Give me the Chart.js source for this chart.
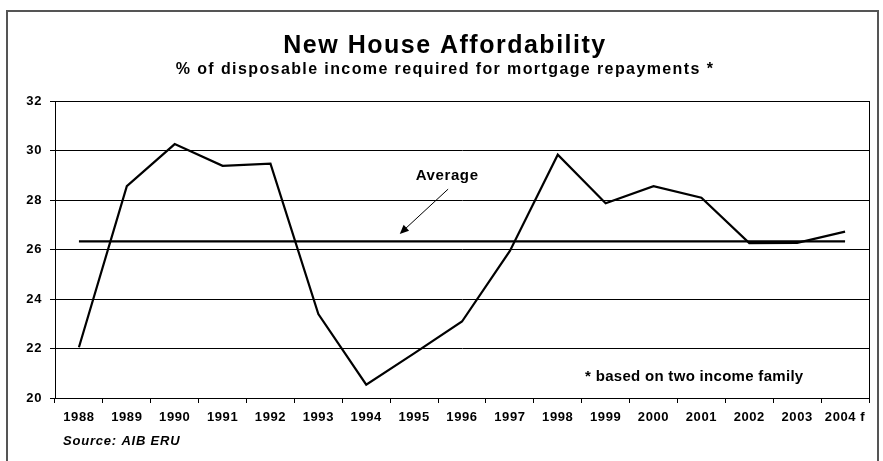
<!DOCTYPE html>
<html>
<head>
<meta charset="utf-8">
<script src="https://cdn.jsdelivr.net/npm/chart.js@4"></script>
<style>
  html, body { margin: 0; padding: 0; background: #fff; }
  #wrap { width: 883px; height: 461px; }
</style>
</head>
<body>
<div id="wrap"><canvas id="chart" width="883" height="461"></canvas></div>
<script>
// values
var years = ['1988', '1989', '1990', '1991', '1992', '1993', '1994', '1995', '1996',
             '1997', '1998', '1999', '2000', '2001', '2002', '2003', '2004 f'];
var affordability = [22.05, 28.56, 30.26, 29.38, 29.47, 23.39, 20.54, 21.8, 23.09,
                     25.94, 29.83, 27.87, 28.56, 28.09, 26.26, 26.27, 26.72];
var averageValue = 26.33;
var yTicks = [20, 22, 24, 26, 28, 30, 32];

var titleText = 'New House Affordability';
var subtitleText = '% of disposable income required for mortgage repayments *';
var noteText = '* based on two income family';
var sourceText = 'Source: AIB ERU';
var averageText = 'Average';

var FONT = '"Liberation Sans", Arial, sans-serif';

function drawText(ctx, text, x, y, font, align, spacing) {
    ctx.save();
    ctx.font = font;
    ctx.fillStyle = '#000';
    ctx.textAlign = align;
    ctx.textBaseline = 'alphabetic';
    ctx.letterSpacing = spacing + 'px';
    ctx.fillText(text, x, y);
    ctx.restore();
}

// frame, titles, notes and the "Average" arrow
var decorPlugin = {
    id: 'decor',
    beforeDraw(chart) {
        chart.ctx.letterSpacing = '0.6px';
    },
    afterDraw(chart) {
        var ctx = chart.ctx;
        var area = chart.chartArea;
        var xs = chart.scales.x;
        var ys = chart.scales.y;

        ctx.save();
        ctx.letterSpacing = '0px';
        // outer border
        ctx.strokeStyle = '#555';
        ctx.lineWidth = 2;
        ctx.strokeRect(7, 11, 871, 470);
        // plot frame
        ctx.strokeStyle = '#000';
        ctx.lineWidth = 1;
        ctx.strokeRect(Math.round(area.left) + 0.5, Math.round(area.top) + 0.5,
                       Math.round(area.right - area.left), Math.round(area.bottom - area.top));
        ctx.restore();

        drawText(ctx, titleText, 445, 53, 'bold 25px ' + FONT, 'center', 1.5);
        drawText(ctx, subtitleText, 445, 74, 'bold 16px ' + FONT, 'center', 1.4);
        drawText(ctx, sourceText, 63, 445, 'italic bold 13px ' + FONT, 'left', 0.8);

        // note inside plot, anchored to the scales
        drawText(ctx, noteText, xs.getPixelForValue(10.57), ys.getPixelForValue(20.7),
                 'bold 15px ' + FONT, 'left', 0.3);

        // Average label and arrow
        drawText(ctx, averageText, xs.getPixelForValue(7.69), ys.getPixelForValue(28.8),
                 'bold 15px ' + FONT, 'center', 0.6);
        var x0 = xs.getPixelForValue(7.71), y0 = ys.getPixelForValue(28.44);
        var x1 = xs.getPixelForValue(6.70), y1 = ys.getPixelForValue(26.63);
        var ang = Math.atan2(y1 - y0, x1 - x0);
        ctx.save();
        ctx.strokeStyle = '#000';
        ctx.fillStyle = '#000';
        ctx.lineWidth = 1;
        ctx.beginPath();
        ctx.moveTo(x0, y0);
        ctx.lineTo(x1 - 6 * Math.cos(ang), y1 - 6 * Math.sin(ang));
        ctx.stroke();
        ctx.beginPath();
        ctx.moveTo(x1, y1);
        ctx.lineTo(x1 - 9 * Math.cos(ang) + 4 * Math.sin(ang), y1 - 9 * Math.sin(ang) - 4 * Math.cos(ang));
        ctx.lineTo(x1 - 9 * Math.cos(ang) - 4 * Math.sin(ang), y1 - 9 * Math.sin(ang) + 4 * Math.cos(ang));
        ctx.closePath();
        ctx.fill();
        ctx.restore();
    }
};

new Chart(document.getElementById('chart').getContext('2d'), {
    type: 'line',
    data: {
        labels: years,
        datasets: [{
            label: 'Affordability',
            data: affordability,
            borderColor: '#000',
            borderWidth: 2.2,
            pointRadius: 0,
            tension: 0,
            fill: false
        }, {
            label: 'Average',
            data: years.map(() => averageValue),
            borderColor: '#000',
            borderWidth: 2.2,
            pointRadius: 0,
            fill: false
        }]
    },
    options: {
        responsive: false,
        animation: false,
        layout: { padding: { left: 0, right: 14, top: 101, bottom: 0 } },
        plugins: {
            legend: { display: false },
            tooltip: { enabled: false },
            title: { display: false }
        },
        scales: {
            x: {
                offset: true,
                grid: { offset: true, drawOnChartArea: false, color: '#000', tickLength: 5, tickColor: '#000' },
                border: { display: true, color: '#000', width: 1 },
                ticks: { color: '#000', font: { family: FONT, size: 13, weight: 'bold' }, padding: 7, maxRotation: 0, autoSkip: false },
                afterFit: (s) => { s.height = 63; }
            },
            y: {
                min: 20,
                max: 32,
                afterBuildTicks: (s) => { s.ticks = yTicks.map(v => ({ value: v })); },
                grid: { color: '#000', lineWidth: 1, tickLength: 5, tickColor: '#000' },
                border: { display: true, color: '#000', width: 1 },
                ticks: { color: '#000', font: { family: FONT, size: 13, weight: 'bold' }, padding: 8 },
                afterFit: (s) => { s.width = 55; }
            }
        }
    },
    plugins: [decorPlugin]
});
</script>
</body>
</html>
